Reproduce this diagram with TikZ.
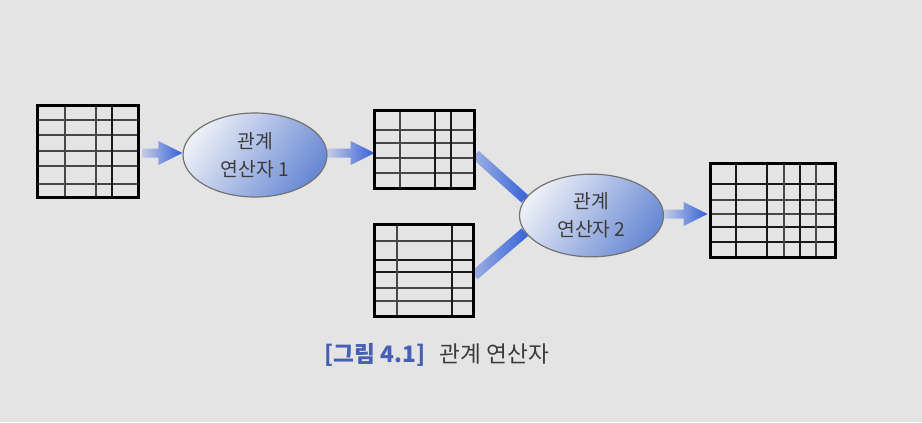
\documentclass[tikz,border=0pt]{standalone}
\usepackage{fontspec}
\newfontfamily\kr{Noto Sans CJK KR}
\usetikzlibrary{calc,shapes.geometric}
\definecolor{bgc}{RGB}{228,228,228}
\definecolor{arrL}{RGB}{195,204,230}
\definecolor{arrD}{RGB}{52,95,215}
\definecolor{lnL}{RGB}{160,178,228}
\definecolor{lnD}{RGB}{55,98,215}
\definecolor{elL}{RGB}{236,239,246}
\definecolor{elD}{RGB}{105,137,212}
\definecolor{capblue}{RGB}{70,95,180}
\definecolor{txt}{RGB}{60,60,60}
\pgfdeclarelayer{back}
\pgfdeclarelayer{lines}
\pgfsetlayers{back,lines,main}
\newcommand{\vln}[3]{\draw[#1] (#2.north -| #3,0) -- (#2.south -| #3,0);}
\newcommand{\hln}[3]{\draw[#1] (#2.west |- 0,#3) -- (#2.east |- 0,#3);}
\newcommand{\fatarr}[2]{%
  \shade[left color=arrL, right color=arrD]
    ($(#1)+(0,4.5)$) -- ($(#2)+(-24,4.5)$) -- ($(#2)+(-24,12)$) -- (#2) --
    ($(#2)+(-24,-12)$) -- ($(#2)+(-24,-4.5)$) -- ($(#1)+(0,-4.5)$) -- cycle;}
\newcommand{\fatline}[2]{%
  \shade[left color=lnL, right color=lnD]
    ($(#1)!3.75pt!90:(#2)$) -- ($(#2)!3.75pt!-90:(#1)$) --
    ($(#2)!3.75pt!90:(#1)$) -- ($(#1)!3.75pt!-90:(#2)$) -- cycle;}
\begin{document}
\begin{tikzpicture}[x=0.75pt,y=-0.75pt,
  tbl/.style={rectangle, inner sep=0pt},
  outer/.style={line width=2.3pt, black},
  thk/.style={line width=1.8pt, black!90},
  thn/.style={line width=1.05pt, black!72},
  oper/.style={ellipse, draw=black!55, line width=0.9pt, inner sep=0pt,
    top color=elL, bottom color=elD, shading angle=55,
    align=center, text=txt, font=\kr\fontsize{14.5}{21}\selectfont},
  caption/.style={font=\kr\fontsize{17}{19}\selectfont, text=txt}]
\begin{pgfonlayer}{back}
\fill[bgc] (0,0) rectangle (922,422);
\end{pgfonlayer}
\useasboundingbox (0,0) rectangle (922,422);

% tables
\node[tbl, minimum width=75pt, minimum height=68.25pt] (t1) at (88,151.5) {};
\node[tbl, minimum width=74.25pt, minimum height=57.75pt] (t2) at (424.5,149.5) {};
\node[tbl, minimum width=73.5pt, minimum height=68.25pt] (t3) at (424,270.5) {};
\node[tbl, minimum width=93pt, minimum height=69.75pt] (t4) at (773,210.5) {};

% table 1 grid
\foreach \y in {120,135,151,166,184} {\hln{thn}{t1}{\y}}
\vln{thn}{t1}{65}
\vln{thn}{t1}{96}
\vln{thk}{t1}{112}
\draw[outer] (t1.north west) rectangle (t1.south east);

% table 2 grid
\foreach \y in {130,143,158,173} {\hln{thn}{t2}{\y}}
\vln{thn}{t2}{400}
\vln{thk}{t2}{435}
\vln{thk}{t2}{451}
\draw[outer] (t2.north west) rectangle (t2.south east);

% table 3 grid
\foreach \y in {241,288,301} {\hln{thn}{t3}{\y}}
\hln{thk}{t3}{260}
\hln{thk}{t3}{272}
\vln{thn}{t3}{397}
\vln{thk}{t3}{452}
\draw[outer] (t3.north west) rectangle (t3.south east);

% table 4 grid
\foreach \y in {200,214} {\hln{thn}{t4}{\y}}
\foreach \y in {184,227,242} {\hln{thk}{t4}{\y}}
\vln{thk}{t4}{736}
\vln{thk}{t4}{767}
\vln{thn}{t4}{784}
\vln{thk}{t4}{800}
\vln{thn}{t4}{816}
\draw[outer] (t4.north west) rectangle (t4.south east);

% operators
\node[oper, minimum width=108pt, minimum height=63pt] (e1) at (255,155) {관계\\연산자 1};
\node[oper, minimum width=108pt, minimum height=62pt] (e2) at (591.5,215.5) {관계\\연산자 2};

% connectors
\coordinate (a1s) at ($(t1.east)+(4,1.5)$);
\coordinate (a1t) at (e1.west |- a1s);
\coordinate (a2s) at ($(e1.east)+(0,-2)$);
\coordinate (a2t) at (t2.west |- a2s);
\coordinate (a3s) at ($(e2.east)+(0,-1.5)$);
\coordinate (a3t) at ($(t4.west |- a3s)+(-3,0)$);
\coordinate (s2) at ($(t2.east)+(1,5)$);
\coordinate (s3) at ($(t3.east)+(1,5)$);
\begin{pgfonlayer}{lines}
\fatarr{a1s}{a1t}
\fatarr{a2s}{a2t}
\fatarr{a3s}{a3t}
\fatline{s2}{e2.166}
\fatline{s3}{e2.194}
\end{pgfonlayer}

% caption
\node[caption] (cap) at (437,355) {{\color{capblue}\bfseries [그림 4.1]}\hspace{11pt}관계 연산자};
\end{tikzpicture}
\end{document}
